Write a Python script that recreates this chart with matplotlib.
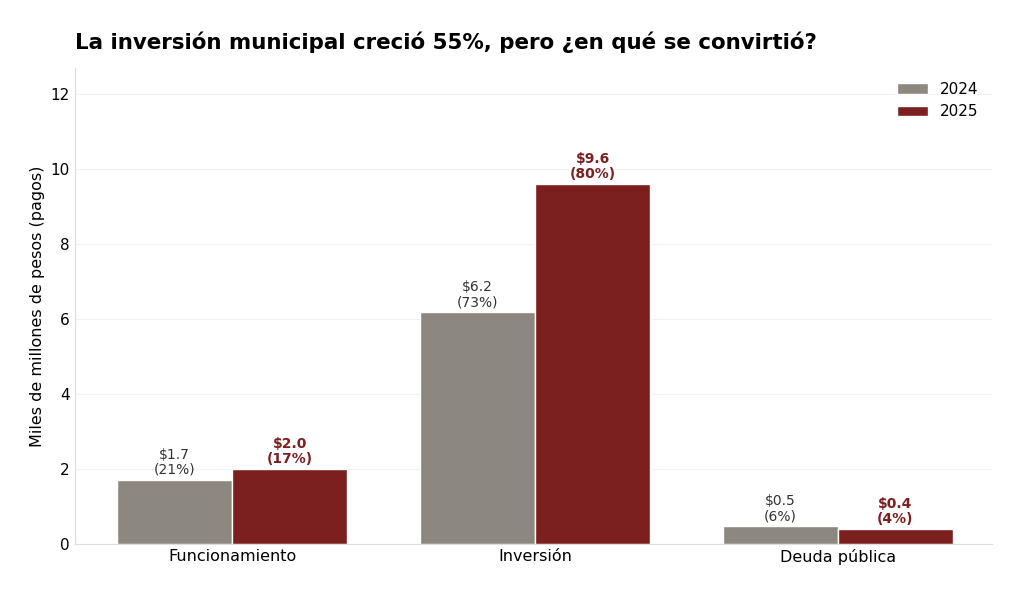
import numpy as np
import matplotlib
matplotlib.use("Agg")
import matplotlib.pyplot as plt

categories = ["Funcionamiento", "Inversión", "Deuda pública"]
values_2024 = [1.72, 6.18, 0.48]
values_2025 = [2.0, 9.6, 0.41]
labels_2024 = ["$1.7\n(21%)", "$6.2\n(73%)", "$0.5\n(6%)"]
labels_2025 = ["$2.0\n(17%)", "$9.6\n(80%)", "$0.4\n(4%)"]

gray = "#8C8880"
red = "#7B1F1F"

fig, ax = plt.subplots(figsize=(10.24, 5.96), dpi=100)
fig.subplots_adjust(left=0.073, right=0.969, top=0.886, bottom=0.087)

x = np.arange(len(categories))
w = 0.38
b1 = ax.bar(x - w / 2, values_2024, w, color=gray, edgecolor="white", linewidth=1, label="2024")
b2 = ax.bar(x + w / 2, values_2025, w, color=red, edgecolor="white", linewidth=1, label="2025")

for rect, lab in zip(b1, labels_2024):
    ax.text(rect.get_x() + rect.get_width() / 2, rect.get_height() + 0.08, lab,
            ha="center", va="bottom", fontsize=10, color="#333333", linespacing=1.1)
for rect, lab in zip(b2, labels_2025):
    ax.text(rect.get_x() + rect.get_width() / 2, rect.get_height() + 0.08, lab,
            ha="center", va="bottom", fontsize=10, color=red, fontweight="bold", linespacing=1.1)

ax.set_xticks(x)
ax.set_xticklabels(categories, fontsize=11.5)
ax.set_xlim(-0.52, 2.51)
ax.set_ylim(0, 12.7)
ax.set_yticks([0, 2, 4, 6, 8, 10, 12])
ax.tick_params(axis="y", labelsize=11, length=0)
ax.tick_params(axis="x", length=0)
ax.set_ylabel("Miles de millones de pesos (pagos)", fontsize=11.5)

ax.yaxis.grid(True, color="#f2f2f2", linewidth=0.8)
ax.set_axisbelow(True)
for s in ["top", "right"]:
    ax.spines[s].set_visible(False)
for s in ["left", "bottom"]:
    ax.spines[s].set_color("#dddddd")

ax.legend(loc="upper right", frameon=False, fontsize=11)
fig.text(0.073, 0.918, "La inversión municipal creció 55%, pero ¿en qué se convirtió?",
         fontsize=15.4, fontweight="bold", ha="left", va="baseline")

fig.savefig("out.png", dpi=100)
